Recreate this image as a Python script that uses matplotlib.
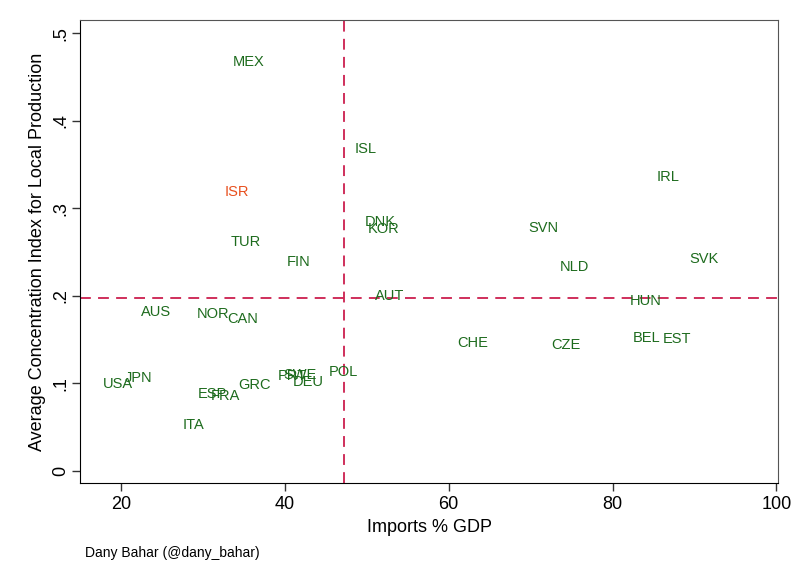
import matplotlib.pyplot as plt
import numpy as np

plt.rcParams['font.family'] = ['Liberation Sans', 'DejaVu Sans']

## data
countries = ["MEX", "ISL", "IRL", "ISR", "DNK", "KOR", "SVN", "TUR", "FIN", "NLD",
             "SVK", "AUT", "HUN", "AUS", "NOR", "CAN", "CHE", "CZE", "BEL", "EST",
             "POL", "PRT", "SWE", "DEU", "JPN", "USA", "GRC", "ESP", "FRA", "ITA"]
imports = [35.6, 49.9, 86.8, 34.1, 51.6, 52.0, 71.6, 35.2, 41.7, 75.4,
           91.2, 52.8, 84.0, 24.3, 31.2, 34.9, 62.9, 74.3, 84.1, 87.9,
           47.2, 40.9, 41.9, 42.8, 22.2, 19.6, 36.3, 31.1, 32.7, 28.8]
concentration = [0.468, 0.369, 0.337, 0.320, 0.285, 0.277, 0.279, 0.263, 0.240, 0.234,
                 0.243, 0.201, 0.195, 0.183, 0.180, 0.174, 0.147, 0.145, 0.153, 0.152,
                 0.114, 0.110, 0.111, 0.103, 0.107, 0.100, 0.099, 0.089, 0.087, 0.053]
highlight = "ISR"
mean_imports = 47.2
mean_conc = 0.1975

fig = plt.figure(figsize=(8.09, 5.88), dpi=100)
ax = fig.add_axes([0.0989, 0.1786, 0.8628, 0.7874])

for c, x, y in zip(countries, imports, concentration):
    col = "#e8501e" if c == highlight else "#1d6b1d"
    ax.text(x, y - 0.001, c, color=col, fontsize=10.5, ha="center", va="center")

ax.axvline(mean_imports, color="#cc1f4e", linestyle=(0, (6, 4)), linewidth=1.3)
ax.axhline(mean_conc, color="#cc1f4e", linestyle=(0, (6, 4)), linewidth=1.3)

ax.set_xlim(15, 100.2)
ax.set_ylim(-0.0137, 0.515)
ax.set_xticks([20, 40, 60, 80, 100])
ax.set_yticks([0, 0.1, 0.2, 0.3, 0.4, 0.5])
ax.set_yticklabels(["0", ".1", ".2", ".3", ".4", ".5"], rotation=90, va="center")
ax.tick_params(labelsize=13, length=6, width=1, color="#333333")
ax.tick_params(axis="y", pad=2)
ax.set_xlabel("Imports % GDP", fontsize=13, labelpad=4)
ax.set_ylabel("Average Concentration Index for Local Production", fontsize=13, labelpad=4)
for s in ax.spines.values():
    s.set_color("#555555")
ax.spines["left"].set_color("black")
ax.spines["bottom"].set_color("black")

fig.text(0.105, 0.052, "Dany Bahar (@dany_bahar)", fontsize=10)

fig.savefig("out.png", dpi=100)
